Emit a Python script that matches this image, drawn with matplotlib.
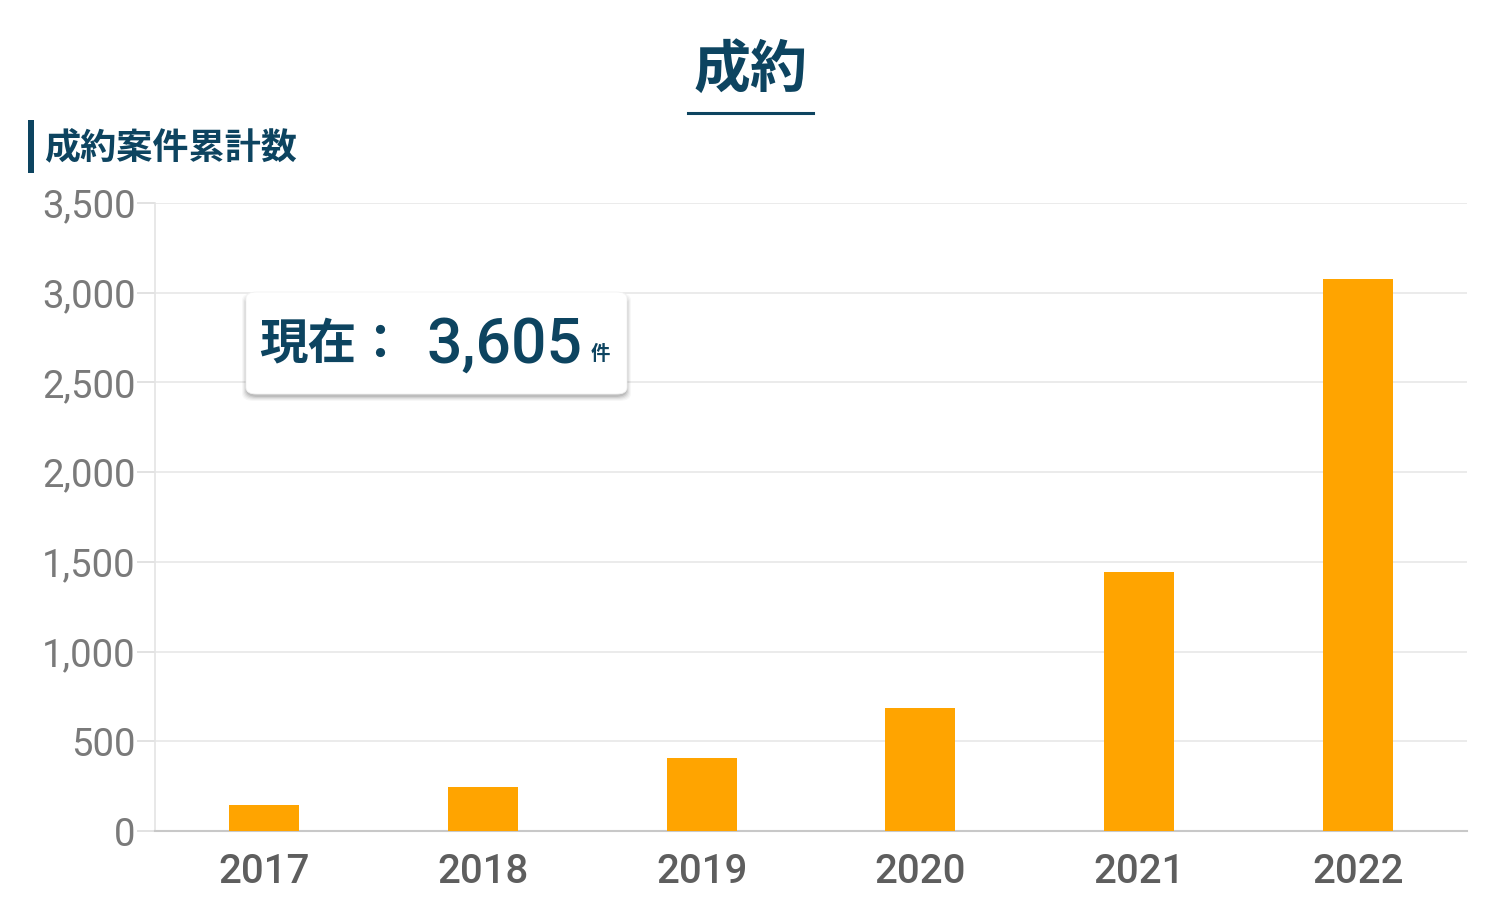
import matplotlib
matplotlib.use("Agg")
import matplotlib.pyplot as plt
from matplotlib.patches import FancyBboxPatch, Rectangle
from matplotlib.lines import Line2D

plt.rcParams['font.family'] = ['Noto Sans CJK JP', 'DejaVu Sans']

# Data
years = ["2017", "2018", "2019", "2020", "2021", "2022"]
cumulative = [145, 245, 405, 685, 1445, 3075]
y_ticks = [0, 500, 1000, 1500, 2000, 2500, 3000, 3500]
total_now = 3605

title = "成約"
subtitle = "成約案件累計数"

NAVY = "#0d4460"
ORANGE = "#ffa400"

W, H = 1490, 914
fig = plt.figure(figsize=(W / 100, H / 100), dpi=100)
fig.patch.set_facecolor("white")

ax = fig.add_axes([155 / W, 1 - 831 / H, (1467 - 155) / W, (831 - 203) / H])
x = list(range(len(years)))
ax.bar(x, cumulative, width=0.32, color=ORANGE, zorder=3)
ax.set_xlim(-0.5, len(years) - 0.5)
ax.set_ylim(0, 3500)
ax.set_yticks(y_ticks)
ax.set_yticklabels([f"{v:,}" for v in y_ticks], family="Roboto",
                   fontweight="normal", fontsize=27.5, color="#7a7a7a")
for lbl in ax.get_yticklabels():
    lbl.set_y(lbl.get_position()[1])
ax.set_xticks(x)
ax.set_xticklabels(years, family="Roboto", fontweight="medium",
                   fontsize=29, color="#5e5e5e")
ax.tick_params(axis="y", length=13, width=1.2, color="#dddddd", pad=1)
ax.tick_params(axis="x", length=0, pad=16)
ax.grid(axis="y", color="#e8e8e8", linewidth=1.2, zorder=0)
for s in ["top", "right"]:
    ax.spines[s].set_visible(False)
ax.spines["left"].set_color("#e4e4e4")
ax.spines["left"].set_linewidth(1.2)
ax.spines["bottom"].set_color("#c8c8c8")
ax.spines["bottom"].set_linewidth(1.5)
ax.set_facecolor("white")

# Title with underline
fig.text(751 / W, 1 - 70 / H, title, ha="center", va="center",
         fontsize=41, fontweight="bold", color=NAVY)
fig.add_artist(Line2D([688 / W, 813 / W], [1 - 113 / H, 1 - 113 / H],
                      color=NAVY, linewidth=2.2))

# Subtitle with accent bar
fig.add_artist(Rectangle((28 / W, 1 - 173 / H), 6 / W, 53 / H,
                         transform=fig.transFigure, color=NAVY, lw=0))
fig.text(44 / W, 1 - 148 / H, subtitle, ha="left", va="center",
         fontsize=26, fontweight="bold", color=NAVY)

# Summary card with soft drop shadow
bx0, by0, bx1, by1 = 246, 292, 627, 394
for i, a in enumerate([0.03, 0.04, 0.05, 0.07, 0.09]):
    grow = 4 - i
    fig.add_artist(FancyBboxPatch(
        ((bx0 - grow) / W, 1 - (by1 + 3 + grow) / H),
        (bx1 - bx0 + 2 * grow) / W, (by1 - by0 + 2 * grow - 2) / H,
        boxstyle="round,pad=0,rounding_size=0.008",
        transform=fig.transFigure, facecolor="#000000", alpha=a, lw=0,
        zorder=5))
fig.add_artist(FancyBboxPatch(
    (bx0 / W, 1 - by1 / H), (bx1 - bx0) / W, (by1 - by0) / H,
    boxstyle="round,pad=0,rounding_size=0.007",
    transform=fig.transFigure, facecolor="white", edgecolor="#f2f2f2",
    lw=0.6, zorder=6))
fig.text(259 / W, 1 - 344 / H, "現在：", ha="left", va="center",
         fontsize=35, fontweight="bold", color=NAVY, zorder=7)
fig.text(426 / W, 1 - 346 / H, f"{total_now:,}", ha="left", va="center",
         family="Roboto", fontsize=45, fontweight="medium", color=NAVY,
         zorder=7)
fig.text(591 / W, 1 - 354 / H, "件", ha="left", va="center",
         fontsize=14, fontweight="bold", color=NAVY, zorder=7)

fig.savefig("out.png", dpi=100, facecolor="white")
